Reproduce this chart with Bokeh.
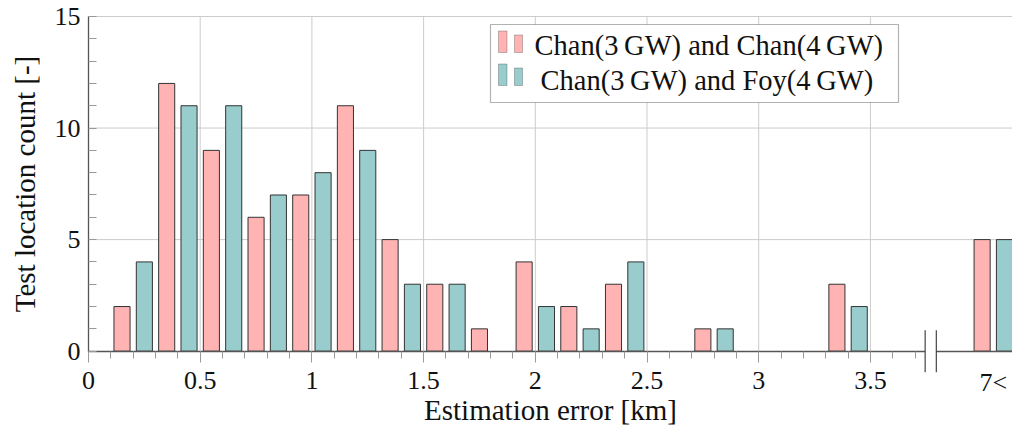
from bokeh.plotting import figure
from bokeh.models import FixedTicker, BoxAnnotation, Label, ColumnDataSource, Range1d
from bokeh.embed import file_html
from bokeh.resources import INLINE

# ---------------- data ----------------
bin_centers = [0.2, 0.4, 0.6, 0.8, 1.0, 1.2, 1.4, 1.6, 1.8, 2.0, 2.2, 2.4,
               2.6, 2.8, 3.0, 3.2, 3.4, 4.05]
chan_chan = [2, 12, 9, 6, 7, 11, 5, 3, 1, 4, 2, 3, 0, 1, 0, 0, 3, 5]
chan_foy = [4, 11, 11, 7, 8, 9, 3, 3, 0, 2, 1, 4, 0, 1, 0, 0, 2, 5]
series_names = ["Chan(3\u2009GW) and Chan(4\u2009GW)", "Chan(3\u2009GW) and Foy(4\u2009GW)"]
x_ticks = [0, 0.5, 1, 1.5, 2, 2.5, 3, 3.5]
x_tick_labels = ["0", "0.5", "1", "1.5", "2", "2.5", "3", "3.5"]
overflow_pos = 4.05
overflow_label = "7<"
y_ticks = [0, 5, 10, 15]

# ---------------- style ----------------
PINK = "#ffb3b3"
TEAL = "#99cccc"
EDGE = "#333333"
FONT = "Liberation Serif"
TXT = "#111111"
GRID = "#cccccc"
OFFSET = 0.05
BAR_W = 0.072
BREAK_L, BREAK_R = 3.745, 3.795
PX = 22.31                      # pixels per count unit (decoration offsets)
H = 437
X_MIN, X_MAX = -0.3939, 4.136   # frame covers the whole canvas; axes sit at x=0 / y=0
Y_MIN, Y_MAX = -3.87, 15 + 16 / PX

p = figure(width=1012, height=H, x_range=Range1d(X_MIN, X_MAX), y_range=Range1d(Y_MIN, Y_MAX),
           output_backend="svg", toolbar_location=None,
           min_border_left=0, min_border_right=0, min_border_top=0, min_border_bottom=0)
p.outline_line_color = None
p.background_fill_color = "white"
p.xgrid.visible = False
p.ygrid.visible = False

# grid lines (only inside the data area)
gx = [t for t in x_ticks if t > 0]
p.segment(x0=gx, y0=[0] * len(gx), x1=gx, y1=[15] * len(gx),
          line_color=GRID, line_width=1, level="underlay")
gy = [t for t in y_ticks if t > 0]
p.segment(x0=[0] * len(gy), y0=gy, x1=[X_MAX] * len(gy), y1=gy,
          line_color=GRID, line_width=1, level="underlay")


def series_source(vals, shift):
    xs = [c + shift for c, v in zip(bin_centers, vals) if v > 0]
    ts = [v for v in vals if v > 0]
    return ColumnDataSource(dict(x=xs, top=ts))


p.vbar(x="x", top="top", width=BAR_W, source=series_source(chan_chan, -OFFSET),
       fill_color=PINK, line_color=EDGE, line_width=1)
p.vbar(x="x", top="top", width=BAR_W, source=series_source(chan_foy, OFFSET),
       fill_color=TEAL, line_color=EDGE, line_width=1)

# x axis, drawn at y = 0
xa = p.xaxis[0]
xa.fixed_location = 0
xa.bounds = (0, X_MAX)
xa.ticker = FixedTicker(ticks=x_ticks, minor_ticks=[round(0.1 * i, 1) for i in range(1, 38)])
xa.major_label_overrides = dict(zip(x_ticks, x_tick_labels))
xa.axis_line_color = "#555555"
xa.axis_line_width = 1.3
xa.major_tick_line_color = "#999999"
xa.minor_tick_line_color = "#999999"
xa.major_tick_out = 11
xa.major_tick_in = 0
xa.minor_tick_out = 7
xa.minor_tick_in = 0
xa.major_label_text_font = FONT
xa.major_label_text_font_size = "26px"
xa.major_label_text_color = TXT
xa.major_label_standoff = 10
xa.axis_label = "Estimation error [km]"
xa.axis_label_text_font = FONT
xa.axis_label_text_font_size = "29px"
xa.axis_label_text_font_style = "normal"
xa.axis_label_text_color = TXT
xa.axis_label_standoff = 1

# y axis, drawn at x = 0
ya = p.yaxis[0]
ya.fixed_location = 0
ya.bounds = (0, 15)
ya.ticker = FixedTicker(ticks=y_ticks, minor_ticks=list(range(0, 16)))
ya.axis_line_color = "#555555"
ya.axis_line_width = 1.3
ya.major_tick_in = 0
ya.major_tick_out = 0
ya.minor_tick_in = 8
ya.minor_tick_out = 0
ya.minor_tick_line_color = "#999999"
ya.major_label_text_font = FONT
ya.major_label_text_font_size = "26px"
ya.major_label_text_color = TXT
ya.major_label_standoff = 8
ya.axis_label = "Test location count [-]"
ya.axis_label_text_font = FONT
ya.axis_label_text_font_size = "29px"
ya.axis_label_text_font_style = "normal"
ya.axis_label_text_color = TXT
ya.axis_label_standoff = 11

# overflow tick label
p.add_layout(Label(x=overflow_pos, y=-31 / PX, text=overflow_label,
                   text_align="center", text_baseline="alphabetic",
                   text_font=FONT, text_font_size="26px", text_color=TXT))

# axis break marks
p.quad(left=[BREAK_L], right=[BREAK_R], bottom=[-3 / PX], top=[3 / PX],
       fill_color="white", line_color=None, level="annotation")
p.segment(x0=[BREAK_L, BREAK_R], y0=[-21 / PX] * 2, x1=[BREAK_L, BREAK_R], y1=[21 / PX] * 2,
          line_color="#444444", line_width=1.2, level="annotation")


# legend (screen units: x from canvas left, y up from canvas bottom)
def box(l, r, b, t, **kw):
    return BoxAnnotation(left=l, right=r, bottom=H - b, top=H - t,
                         left_units="screen", right_units="screen",
                         bottom_units="screen", top_units="screen", **kw)


p.add_layout(box(490, 898, 102, 24, fill_color="white", fill_alpha=1,
                 line_color="black", line_width=1.2))
rows = [(series_names[0], PINK, 52, 55, 534), (series_names[1], TEAL, 85, 90, 540)]
for name, col, gb, tb, tx in rows:
    p.add_layout(box(498, 506.5, gb, gb - 21.5, fill_color=col, fill_alpha=1,
                     line_color=EDGE, line_width=1))
    p.add_layout(box(514, 522, gb, gb - 17.5, fill_color=col, fill_alpha=1,
                     line_color=EDGE, line_width=1))
    p.add_layout(Label(x=tx, y=H - tb + 10, x_units="screen", y_units="screen", text=name,
                       text_align="left", text_baseline="alphabetic",
                       text_font=FONT, text_font_size="28.5px", text_color=TXT))

open("out.html", "w").write(file_html(p, INLINE))
